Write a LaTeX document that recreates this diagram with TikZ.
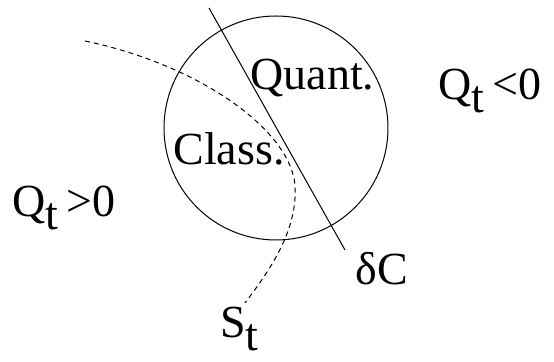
\documentclass[tikz,border=0pt]{standalone}
\usepackage{fontspec}
\setmainfont{Liberation Serif}
\usepackage{tikz}
\usetikzlibrary{positioning}
\newcommand{\lowsub}[1]{\raisebox{-6.5pt}{#1}}

\begin{document}
\begin{tikzpicture}[x=0.5pt, y=-0.5pt,
    lbl/.style={inner sep=0pt, anchor=base west, font=\fontsize{23}{26}\selectfont},
    boundary/.style={line width=0.5pt, dash pattern=on 2.5pt off 2pt}]
  \useasboundingbox (0,0) rectangle (554,362);

  \node[draw, circle, line width=0.5pt, minimum size=112pt, inner sep=0pt] (cell) at (276,128) {};
  \coordinate (dcTop) at (209,8);
  \coordinate (dcBot) at (345,250);
  \draw[line width=0.5pt] (dcTop) -- (dcBot);

  \coordinate (stTop) at (85,41);
  \coordinate (stMid) at (295,185);
  \coordinate (stBot) at (245,303);
  \draw[boundary] (stTop) .. controls (200,65) and (290,130) .. (stMid)
    .. controls (298,230) and (270,270) .. (stBot);

  \node[lbl] (quant) at (250,90) {Quant.};
  \node[lbl] (class) at (173,165) {Class.};
  \node[lbl] (qneg) at (438,100) {Q\lowsub{t}\,<0};
  \node[lbl] (qpos) at (12,217) {Q\lowsub{t}\,>0};
  \node[lbl] (dc) at (355,285) {δC};
  \node[lbl] (st) at (220,338) {S\lowsub{t}};
\end{tikzpicture}
\end{document}
